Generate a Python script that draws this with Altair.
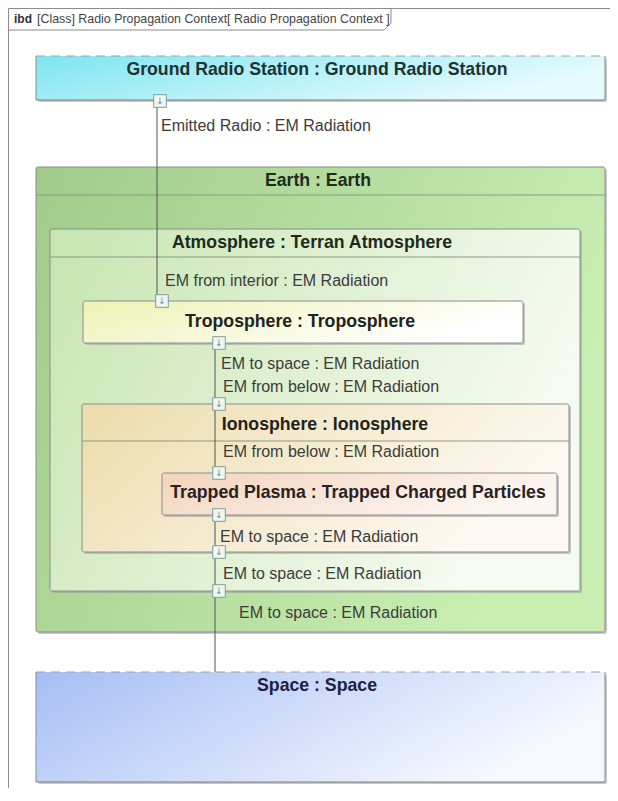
import altair as alt
import pandas as pd

# ---------------- diagram content (page coordinates) ----------------
tab_label_bold = "ibd"
tab_label_rest = "[Class] Radio Propagation Context[ Radio Propagation Context ]"

box_names = [
    "Ground Radio Station : Ground Radio Station",
    "Earth : Earth",
    "Atmosphere : Terran Atmosphere",
    "Troposphere : Troposphere",
    "Ionosphere : Ionosphere",
    "Trapped Plasma : Trapped Charged Particles",
    "Space : Space",
]
box_left = [36, 36, 50, 83, 82, 162, 36]
box_right = [605, 605, 580, 523, 569, 557, 605]
box_top = [56, 167, 229, 301, 404, 473, 672]
box_bottom = [100, 632, 591, 343, 552, 515, 782]
box_header = [None, 195, 257, None, 441, None, None]
box_dashed_top = [True, False, False, False, False, False, True]
title_x = [317, 318, 312, 300, 325, 358, 317]
title_y = [70, 181, 243, 322, 425, 493, 686]
box_fill_start = ["#7ee5f1", "#a0cb8a", "#c6e5b0", "#edf2b4", "#ecdcab", "#f3d3bb", "#a6bef5"]
box_fill_end = ["#e6fbfd", "#c9eeb2", "#f6fbf1", "#ffffff", "#fdf9f2", "#fcf6f1", "#f5f8fe"]
title_color = ["#1b3434", "#1d2b1d", "#1d2b1d", "#222222", "#222222", "#2a2222", "#1c2240"]

port_x = [160, 162, 219, 219, 219, 219, 219, 219]
port_y = [101, 301, 343, 404, 473, 515, 552, 591]

conn_x = [157, 215, 215]
conn_y0 = [101, 343, 515]
conn_y1 = [301, 473, 672]

label_text = [
    "Emitted Radio : EM Radiation",
    "EM from interior : EM Radiation",
    "EM to space : EM Radiation",
    "EM from below : EM Radiation",
    "EM from below : EM Radiation",
    "EM to space : EM Radiation",
    "EM to space : EM Radiation",
    "EM to space : EM Radiation",
]
label_x = [161, 165, 221, 223, 223, 220, 223, 239]
label_y = [126, 281, 364, 387, 452, 537, 574, 613]

frame_left = 8.5
frame_top = 8.5
frame_right = 610
frame_bottom = 788
tab_x = [8.5, 384, 391, 391]
tab_y = [30, 30, 23, 8.5]

# ---------------- scales ----------------
W, H = 602, 780
xs = alt.Scale(domain=[8, 8 + W], nice=False, zero=False)
ys = alt.Scale(domain=[8, 8 + H], nice=False, zero=False, reverse=True)
FONT = "Liberation Sans"
BORDER = "#8c8c8c"


def enc_rect(ch):
    return ch.encode(
        x=alt.X("x0:Q", scale=xs, axis=None),
        x2="x1:Q",
        y=alt.Y("y0:Q", scale=ys, axis=None),
        y2="y1:Q",
    )


def hrule(df, **mk):
    return alt.Chart(df).mark_rule(**mk).encode(
        x=alt.X("x0:Q", scale=xs, axis=None), x2="x1:Q",
        y=alt.Y("y0:Q", scale=ys, axis=None))


def vrule(df, **mk):
    return alt.Chart(df).mark_rule(**mk).encode(
        x=alt.X("x0:Q", scale=xs, axis=None),
        y=alt.Y("y0:Q", scale=ys, axis=None), y2="y1:Q")


layers = []

# frame
layers.append(vrule(pd.DataFrame({"x0": [frame_left], "y0": [frame_top], "y1": [frame_bottom]}),
                    color=BORDER, strokeWidth=1))
layers.append(hrule(pd.DataFrame({"x0": [frame_left], "x1": [frame_right], "y0": [frame_top]}),
                    color=BORDER, strokeWidth=1))
tab_df = pd.DataFrame({"x": tab_x, "y": tab_y, "o": list(range(len(tab_x)))})
layers.append(alt.Chart(tab_df).mark_line(color="#8a8a8a", strokeWidth=1).encode(
    x=alt.X("x:Q", scale=xs, axis=None), y=alt.Y("y:Q", scale=ys, axis=None), order="o:Q"))

# boxes
for i, name in enumerate(box_names):
    df = pd.DataFrame({"x0": [box_left[i]], "x1": [box_right[i]],
                       "y0": [box_top[i]], "y1": [box_bottom[i]]})
    # shadow
    layers.append(enc_rect(alt.Chart(df).mark_rect(
        color="#9a9a9a", opacity=0.55, xOffset=2, x2Offset=2, yOffset=2, y2Offset=2,
        cornerRadius=2)))
    grad = alt.LinearGradient(
        gradient="linear",
        stops=[alt.GradientStop(color=box_fill_start[i], offset=0),
               alt.GradientStop(color=box_fill_end[i], offset=1)],
        x1=0, y1=0, x2=1, y2=0.35,
    )
    if box_dashed_top[i]:
        layers.append(enc_rect(alt.Chart(df).mark_rect(fill=grad, strokeWidth=0)))
        layers.append(vrule(pd.DataFrame({"x0": [box_left[i], box_right[i]],
                                          "y0": [box_top[i]] * 2, "y1": [box_bottom[i]] * 2}),
                            color=BORDER, strokeWidth=1))
        layers.append(hrule(pd.DataFrame({"x0": [box_left[i]], "x1": [box_right[i]],
                                          "y0": [box_bottom[i]]}),
                            color="#7d7d7d", strokeWidth=1))
        layers.append(hrule(pd.DataFrame({"x0": [box_left[i]], "x1": [box_right[i]],
                                          "y0": [box_top[i]]}),
                            color="#a0a0a0", strokeWidth=1, strokeDash=[9, 6]))
    else:
        layers.append(enc_rect(alt.Chart(df).mark_rect(
            fill=grad, stroke=BORDER, strokeWidth=1, cornerRadius=2)))
    if box_header[i] is not None:
        layers.append(hrule(pd.DataFrame({"x0": [box_left[i]], "x1": [box_right[i]],
                                          "y0": [box_header[i]]}),
                            color="#8a9a85", strokeWidth=1))

# connectors
layers.append(vrule(pd.DataFrame({"x0": conn_x, "y0": conn_y0, "y1": conn_y1}),
                    color="#555555", strokeWidth=1))

# ports
ports_df = pd.DataFrame({"x": port_x, "y": port_y, "a": ["\u2193"] * len(port_x)})
layers.append(alt.Chart(ports_df).mark_square(
    size=160, fill="#eef6f2", stroke="#7f9e9a", strokeWidth=1, opacity=1).encode(
    x=alt.X("x:Q", scale=xs, axis=None), y=alt.Y("y:Q", scale=ys, axis=None)))
layers.append(alt.Chart(ports_df).mark_text(
    font="DejaVu Sans", fontSize=9, color="#6f8f8f", baseline="middle", align="center").encode(
    x=alt.X("x:Q", scale=xs, axis=None), y=alt.Y("y:Q", scale=ys, axis=None), text="a:N"))

# titles
titles_df = pd.DataFrame({"x": title_x, "y": title_y, "t": box_names, "c": title_color})
layers.append(alt.Chart(titles_df).mark_text(
    font=FONT, fontSize=17.7, fontWeight="bold", align="center", baseline="middle").encode(
    x=alt.X("x:Q", scale=xs, axis=None), y=alt.Y("y:Q", scale=ys, axis=None),
    text="t:N", color=alt.Color("c:N", scale=None)))

# connector labels
labels_df = pd.DataFrame({"x": label_x, "y": label_y, "t": label_text})
layers.append(alt.Chart(labels_df).mark_text(
    font=FONT, fontSize=16, color="#3c3c3c", align="left", baseline="middle").encode(
    x=alt.X("x:Q", scale=xs, axis=None), y=alt.Y("y:Q", scale=ys, axis=None), text="t:N"))

# tab label
tab_text_df = pd.DataFrame({"x": [14, 37], "y": [19, 19], "t": [tab_label_bold, tab_label_rest]})
layers.append(alt.Chart(tab_text_df.iloc[[0]]).mark_text(
    font=FONT, fontSize=12, fontWeight="bold", color="#333333", align="left", baseline="middle").encode(
    x=alt.X("x:Q", scale=xs, axis=None), y=alt.Y("y:Q", scale=ys, axis=None), text="t:N"))
layers.append(alt.Chart(tab_text_df.iloc[[1]]).mark_text(
    font=FONT, fontSize=12.4, color="#444444", align="left", baseline="middle").encode(
    x=alt.X("x:Q", scale=xs, axis=None), y=alt.Y("y:Q", scale=ys, axis=None), text="t:N"))

chart = alt.layer(*layers).properties(
    width=W, height=H, padding=0, autosize=alt.AutoSizeParams(type="none"),
    background="white",
).configure_view(stroke=None)

chart.save("out.html", embed_options={"renderer": "svg", "actions": False})
